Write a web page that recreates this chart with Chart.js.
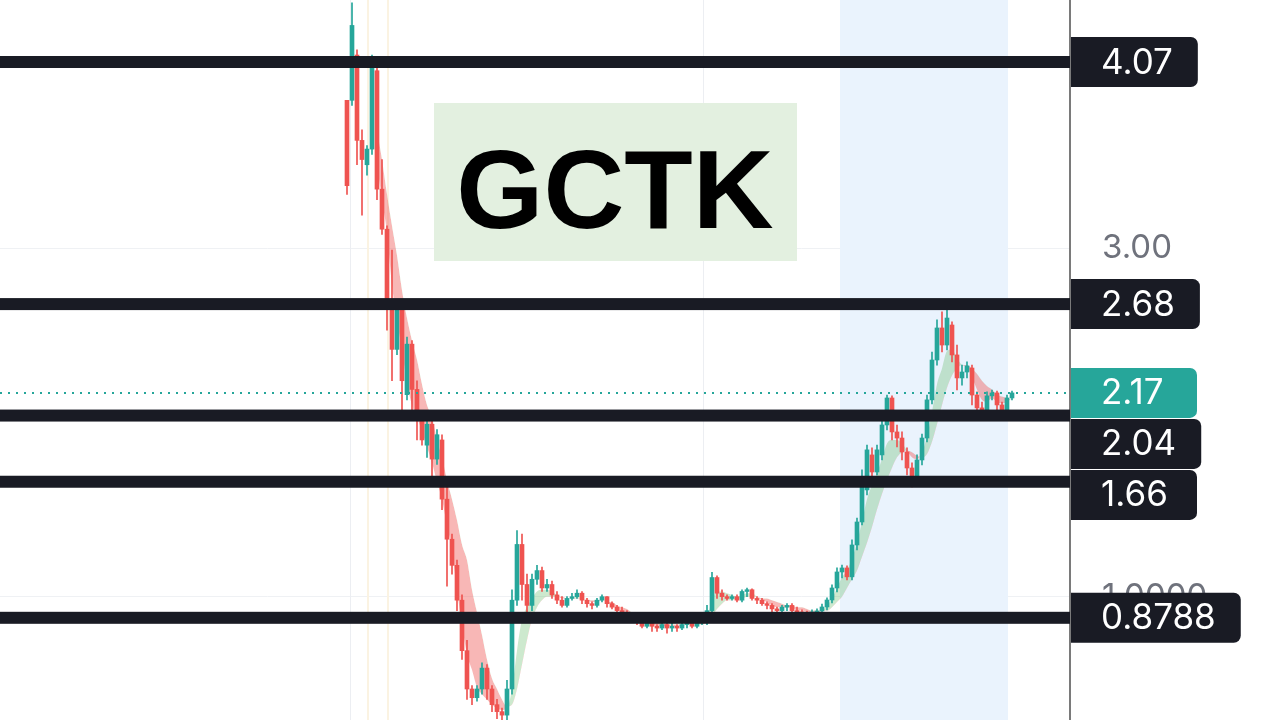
<!DOCTYPE html>
<html>
<head>
<meta charset="utf-8">
<script src="https://cdn.jsdelivr.net/npm/chart.js@4.4.1/dist/chart.umd.min.js"></script>
<style>
  html, body { margin: 0; padding: 0; background: #ffffff; }
  #wrap { width: 1280px; height: 720px; }
</style>
</head>
<body>
<div id="wrap"><canvas id="chart" width="1280" height="720"></canvas></div>
<script>
// candle data (price units)
const opens = [
  3.85, 3.85, 4.11, 3.62, 3.48, 3.57, 4.02, 3.34, 3.11, 2.70,
  2.42, 2.65, 2.16, 2.45, 2.19, 2.02, 1.87, 1.99, 1.79, 1.90,
  1.56, 1.33, 1.18, 0.98, 0.69, 0.47, 0.42, 0.47, 0.59, 0.47,
  0.38, 0.34, 0.32, 0.47, 0.98, 1.30, 1.07, 0.95, 1.10, 1.15,
  1.05, 1.07, 1.01, 0.98, 0.95, 0.99, 1.00, 1.02, 0.98, 0.96,
  0.95, 0.98, 1.00, 0.96, 0.94, 0.92, 0.91, 0.89, 0.87, 0.86,
  0.83, 0.85, 0.83, 0.82, 0.84, 0.82, 0.83, 0.82, 0.84, 0.85,
  0.83, 0.86, 0.87, 0.92, 1.11, 1.02, 1.00, 0.99, 1.00, 0.98,
  1.03, 1.04, 0.99, 0.98, 0.96, 0.95, 0.93, 0.92, 0.94, 0.95,
  0.92, 0.912, 0.907, 0.901, 0.907, 0.918, 0.941, 0.981, 1.050, 1.142,
  1.165, 1.114, 1.297, 1.429, 1.613, 1.814, 1.716, 1.814, 1.986, 2.141,
  1.946, 1.911, 1.831, 1.739, 1.670, 1.785, 1.911, 2.130, 2.359, 2.543,
  2.445, 2.560, 2.388, 2.256, 2.290, 2.313, 2.158, 2.084, 2.061, 2.153,
  2.170, 2.101, 2.072, 2.141
];
const closes = [
  3.36, 4.28, 3.62, 3.51, 3.57, 4.08, 3.34, 3.11, 2.70, 2.42,
  2.65, 2.24, 2.45, 2.19, 2.02, 1.90, 1.99, 1.79, 1.93, 1.56,
  1.33, 1.18, 0.98, 0.69, 0.47, 0.42, 0.47, 0.59, 0.47, 0.38,
  0.34, 0.32, 0.47, 0.98, 1.30, 1.07, 0.95, 1.10, 1.15, 1.05,
  1.07, 1.01, 0.98, 0.95, 0.99, 1.00, 1.02, 0.98, 0.96, 0.95,
  0.98, 1.00, 0.96, 0.94, 0.92, 0.91, 0.89, 0.87, 0.86, 0.83,
  0.85, 0.83, 0.82, 0.84, 0.82, 0.83, 0.82, 0.84, 0.85, 0.83,
  0.86, 0.87, 0.92, 1.11, 1.02, 1.00, 0.99, 1.00, 0.98, 1.03,
  1.04, 0.99, 0.98, 0.96, 0.95, 0.93, 0.92, 0.94, 0.95, 0.92,
  0.91, 0.907, 0.901, 0.912, 0.918, 0.941, 0.981, 1.050, 1.142, 1.165,
  1.114, 1.297, 1.429, 1.670, 1.843, 1.716, 1.843, 1.986, 2.141, 1.946,
  1.911, 1.831, 1.739, 1.670, 1.785, 1.911, 2.130, 2.359, 2.543, 2.445,
  2.600, 2.388, 2.256, 2.290, 2.325, 2.158, 2.084, 2.061, 2.153, 2.170,
  2.101, 2.072, 2.141, 2.170
];
const highs = [
  3.85, 4.41, 4.14, 3.68, 3.59, 4.11, 4.04, 3.51, 3.13, 2.99,
  2.70, 2.68, 2.49, 2.47, 2.24, 2.07, 2.02, 2.02, 1.96, 1.93,
  1.67, 1.36, 1.21, 1.01, 0.75, 0.49, 0.49, 0.62, 0.61, 0.49,
  0.41, 0.36, 0.52, 1.04, 1.38, 1.36, 1.13, 1.13, 1.18, 1.17,
  1.10, 1.09, 1.03, 1.00, 1.00, 1.02, 1.04, 1.03, 0.99, 0.97,
  0.99, 1.01, 1.00, 0.97, 0.95, 0.94, 0.92, 0.90, 0.88, 0.87,
  0.86, 0.86, 0.84, 0.86, 0.85, 0.85, 0.84, 0.86, 0.86, 0.86,
  0.87, 0.88, 0.95, 1.14, 1.12, 1.04, 1.01, 1.01, 1.01, 1.04,
  1.05, 1.045, 1.00, 0.99, 0.97, 0.96, 0.94, 0.95, 0.96, 0.96,
  0.94, 0.924, 0.918, 0.924, 0.930, 0.958, 0.993, 1.068, 1.165, 1.182,
  1.177, 1.326, 1.452, 1.728, 1.871, 1.854, 1.871, 2.015, 2.158, 2.153,
  1.986, 1.946, 1.854, 1.768, 1.814, 1.934, 2.158, 2.405, 2.589, 2.635,
  2.646, 2.578, 2.445, 2.330, 2.348, 2.330, 2.176, 2.118, 2.176, 2.187,
  2.181, 2.118, 2.158, 2.181
];
const lows = [
  3.31, 3.82, 3.48, 3.19, 3.42, 3.54, 3.28, 3.08, 2.53, 2.24,
  2.39, 2.04, 2.13, 2.07, 1.90, 1.87, 1.80, 1.69, 1.76, 1.50,
  1.06, 1.13, 0.92, 0.64, 0.41, 0.38, 0.40, 0.44, 0.41, 0.34,
  0.30, 0.29, 0.29, 0.44, 0.95, 0.98, 0.91, 0.92, 1.07, 1.03,
  1.03, 0.99, 0.96, 0.94, 0.94, 0.98, 0.99, 0.96, 0.94, 0.93,
  0.94, 0.97, 0.94, 0.93, 0.91, 0.89, 0.87, 0.86, 0.84, 0.82,
  0.82, 0.80, 0.80, 0.81, 0.79, 0.80, 0.80, 0.81, 0.82, 0.82,
  0.82, 0.84, 0.84, 0.90, 0.99, 0.98, 0.98, 0.98, 0.97, 0.97,
  1.00, 0.98, 0.96, 0.95, 0.93, 0.91, 0.90, 0.91, 0.92, 0.91,
  0.90, 0.890, 0.884, 0.890, 0.895, 0.901, 0.924, 0.964, 1.027, 1.108,
  1.096, 1.096, 1.269, 1.412, 1.585, 1.670, 1.699, 1.785, 1.957, 1.900,
  1.860, 1.785, 1.699, 1.630, 1.647, 1.756, 1.888, 2.107, 2.330, 2.405,
  2.417, 2.348, 2.187, 2.215, 2.256, 2.101, 2.044, 2.015, 2.038, 2.130,
  2.072, 2.044, 2.049, 2.130
];
// the two moving averages whose gap is shaded
const fastMa = [
  null, null, null, null, null, null, 3.48, 3.28, 3.09, 2.79,
  2.59, 2.42, 2.23, 2.10, 2.03, 1.95, 1.86, 1.77, 1.66, 1.56,
  1.41, 1.27, 1.04, 0.84, 0.67, 0.58, 0.48, 0.44, 0.41, 0.38,
  0.36, 0.35, 0.36, 0.47, 0.69, 0.87, 0.94, 0.99, 1.03, 1.04,
  1.04, 1.03, 1.01, 0.99, 0.99, 0.99, 1.00, 0.99, 0.98, 0.97,
  0.97, 0.98, 0.97, 0.95, 0.93, 0.91, 0.90, 0.88, 0.87, 0.86,
  0.84, 0.84, 0.83, 0.83, 0.83, 0.83, 0.83, 0.83, 0.84, 0.84,
  0.84, 0.86, 0.88, 0.98, 1.03, 1.03, 1.02, 1.01, 1.00, 1.01,
  1.02, 1.02, 1.00, 0.98, 0.97, 0.95, 0.94, 0.94, 0.94, 0.94,
  0.92, 0.92, 0.91, 0.91, 0.91, 0.92, 0.95, 0.99, 1.05, 1.11,
  1.15, 1.22, 1.31, 1.43, 1.56, 1.64, 1.71, 1.79, 1.88, 1.90,
  1.90, 1.88, 1.84, 1.80, 1.79, 1.83, 1.92, 2.06, 2.22, 2.31,
  2.41, 2.42, 2.37, 2.33, 2.32, 2.26, 2.19, 2.13, 2.12, 2.14,
  2.12, 2.11, 2.12, 2.14
];
const slowMa = [
  null, null, null, null, null, null, 3.68, 3.51, 3.31, 3.13,
  2.96, 2.76, 2.60, 2.47, 2.36, 2.22, 2.10, 2.03, 1.90, 1.80,
  1.67, 1.56, 1.44, 1.30, 1.21, 1.04, 0.91, 0.78, 0.64, 0.53,
  0.47, 0.41, 0.37, 0.38, 0.47, 0.61, 0.75, 0.87, 0.94, 0.98,
  1.00, 1.00, 1.00, 1.00, 0.99, 0.99, 0.99, 0.99, 0.98, 0.98,
  0.98, 0.98, 0.97, 0.97, 0.95, 0.94, 0.93, 0.91, 0.90, 0.88,
  0.87, 0.86, 0.86, 0.85, 0.84, 0.84, 0.84, 0.84, 0.84, 0.84,
  0.84, 0.84, 0.86, 0.89, 0.93, 0.96, 0.98, 0.98, 0.99, 0.99,
  1.00, 1.00, 1.00, 0.99, 0.99, 0.98, 0.97, 0.96, 0.95, 0.95,
  0.94, 0.94, 0.93, 0.92, 0.92, 0.92, 0.92, 0.94, 0.97, 1.00,
  1.05, 1.10, 1.15, 1.23, 1.31, 1.40, 1.50, 1.59, 1.67, 1.74,
  1.80, 1.83, 1.84, 1.83, 1.81, 1.80, 1.82, 1.89, 1.99, 2.10,
  2.20, 2.27, 2.31, 2.33, 2.33, 2.31, 2.28, 2.24, 2.21, 2.19,
  2.16, 2.15, 2.14, 2.13
];

// price levels drawn as thick lines with tags on the right
const levels = [4.07, 2.68, 2.04, 1.66, 0.8788];
const levelLabels = ['4.07', '2.68', '2.04', '1.66', '0.8788'];
const lastPrice = 2.17;
const axisTicks = [1, 3];
const axisTickLabels = ['1.0000', '3.00'];
// highlighted session, in candle index units
const sessionRange = [98.6, 132.2];
const gridMarks = [0.6, 71.2];
const warmMarks = [4.2, 8.2];
const ticker = 'GCTK';

const upColor = '#26a69a';
const downColor = '#ef5350';
const levelColor = '#191b24';

const bodyData = closes.map((c, i) => ({ x: i, y: [opens[i], c] }));
const wickData = closes.map((c, i) => ({ x: i, y: [lows[i], highs[i]] }));
const candleColors = closes.map((c, i) => c >= opens[i] ? upColor : downColor);

const overlay = {
  id: 'overlay',
  beforeDatasetsDraw(chart) {
    const { ctx, chartArea: a, scales: { x } } = chart;
    ctx.save();
    const x0 = x.getPixelForValue(sessionRange[0]);
    const x1 = x.getPixelForValue(sessionRange[1]);
    ctx.fillStyle = '#eaf3fd';
    ctx.fillRect(x0, a.top, x1 - x0, a.bottom - a.top);

    ctx.lineWidth = 1;
    ctx.strokeStyle = '#eceef2';
    gridMarks.forEach(v => {
      const px = Math.round(x.getPixelForValue(v)) + 0.5;
      ctx.beginPath(); ctx.moveTo(px, a.top); ctx.lineTo(px, a.bottom); ctx.stroke();
    });
    ctx.lineWidth = 2;
    ctx.strokeStyle = '#fbf3e2';
    warmMarks.forEach(v => {
      const px = x.getPixelForValue(v);
      ctx.beginPath(); ctx.moveTo(px, a.top); ctx.lineTo(px, a.bottom); ctx.stroke();
    });
    ctx.restore();
  },
  afterDatasetsDraw(chart) {
    const { ctx, chartArea: a, scales: { y } } = chart;
    ctx.save();
    // dotted last price line
    const lp = Math.round(y.getPixelForValue(lastPrice));
    ctx.setLineDash([2, 6]);
    ctx.lineWidth = 2;
    ctx.strokeStyle = upColor;
    ctx.beginPath(); ctx.moveTo(a.left, lp); ctx.lineTo(a.right, lp); ctx.stroke();
    ctx.setLineDash([]);

    ctx.fillStyle = levelColor;
    levels.forEach(v => {
      const py = y.getPixelForValue(v);
      ctx.fillRect(a.left, py - 6, a.right - a.left, 12);
    });
    ctx.restore();
  },
  afterDraw(chart) {
    const { ctx, chartArea: a, scales: { y } } = chart;
    ctx.save();

    // ticker box
    ctx.fillStyle = '#e3f0e0';
    ctx.fillRect(434, 103, 363, 158);
    ctx.fillStyle = '#000000';
    ctx.font = 'bold 112px "Liberation Sans", Arial, sans-serif';
    ctx.textAlign = 'center';
    ctx.textBaseline = 'alphabetic';
    ctx.fillText(ticker, 615, 228);

    // price tags, pushed down when they collide
    let tags = levels.map((v, i) => ({ v: v, text: levelLabels[i], color: levelColor }));
    tags.push({ v: lastPrice, text: lastPrice.toFixed(2), color: upColor });
    tags.forEach(t => { t.cy = y.getPixelForValue(t.v); });
    tags.sort((p, q) => p.cy - q.cy);
    const h = 50;
    let prevBottom = -1000;
    tags.forEach(t => {
      let top = t.cy - h / 2;
      if (top < prevBottom + 1) top = prevBottom + 1;
      t.top = top;
      prevBottom = top + h;
    });

    ctx.font = '35px Inter, "Noto Sans", sans-serif';
    ctx.textAlign = 'left';
    ctx.textBaseline = 'middle';
    const bx = a.right + 1;
    tags.forEach(t => {
      const tw = ctx.measureText(t.text).width;
      const w = Math.max(126, tw + 55);
      ctx.fillStyle = t.color;
      ctx.beginPath();
      ctx.roundRect(bx, t.top, w, h, [0, 7, 7, 0]);
      ctx.fill();
      ctx.fillStyle = '#ffffff';
      ctx.fillText(t.text, bx + 30, t.top + h / 2 + 1);
    });
    ctx.restore();
  }
};

new Chart(document.getElementById('chart'), {
  type: 'bar',
  data: {
    datasets: [
      {
        type: 'line',
        label: 'fast',
        data: fastMa.map((v, i) => ({ x: i, y: v })),
        borderColor: 'rgba(0,0,0,0)',
        borderWidth: 1,
        pointRadius: 0,
        cubicInterpolationMode: 'monotone',
        fill: { target: 1, above: 'rgba(76,175,80,0.28)', below: 'rgba(239,83,80,0.42)' },
        order: 4
      },
      {
        type: 'line',
        label: 'slow',
        data: slowMa.map((v, i) => ({ x: i, y: v })),
        borderColor: 'rgba(0,0,0,0)',
        borderWidth: 1,
        pointRadius: 0,
        cubicInterpolationMode: 'monotone',
        fill: false,
        order: 5
      },
      {
        label: 'wick',
        data: wickData,
        backgroundColor: candleColors,
        barThickness: 1,
        grouped: false,
        order: 2
      },
      {
        label: 'body',
        data: bodyData,
        backgroundColor: candleColors,
        barThickness: 4,
        minBarLength: 1,
        grouped: false,
        order: 1
      }
    ]
  },
  options: {
    responsive: false,
    animation: false,
    devicePixelRatio: 1,
    layout: { padding: 0 },
    plugins: {
      legend: { display: false },
      tooltip: { enabled: false }
    },
    scales: {
      x: {
        type: 'linear',
        min: -69.4,
        max: 144.6,
        offset: false,
        display: false
      },
      y: {
        position: 'right',
        min: 0.292,
        max: 4.426,
        afterBuildTicks: s => { s.ticks = axisTicks.map(v => ({ value: v })); },
        afterFit: s => { s.width = 210; s.paddingTop = 0; s.paddingBottom = 0; },
        ticks: {
          padding: 32,
          color: '#6f727c',
          font: { family: 'Inter', size: 33 },
          callback: v => axisTickLabels[axisTicks.indexOf(v)]
        },
        grid: { color: '#eff1f4', drawTicks: false },
        border: { color: '#7a7a7a', width: 2 }
      }
    }
  },
  plugins: [overlay]
});
</script>
</body>
</html>
